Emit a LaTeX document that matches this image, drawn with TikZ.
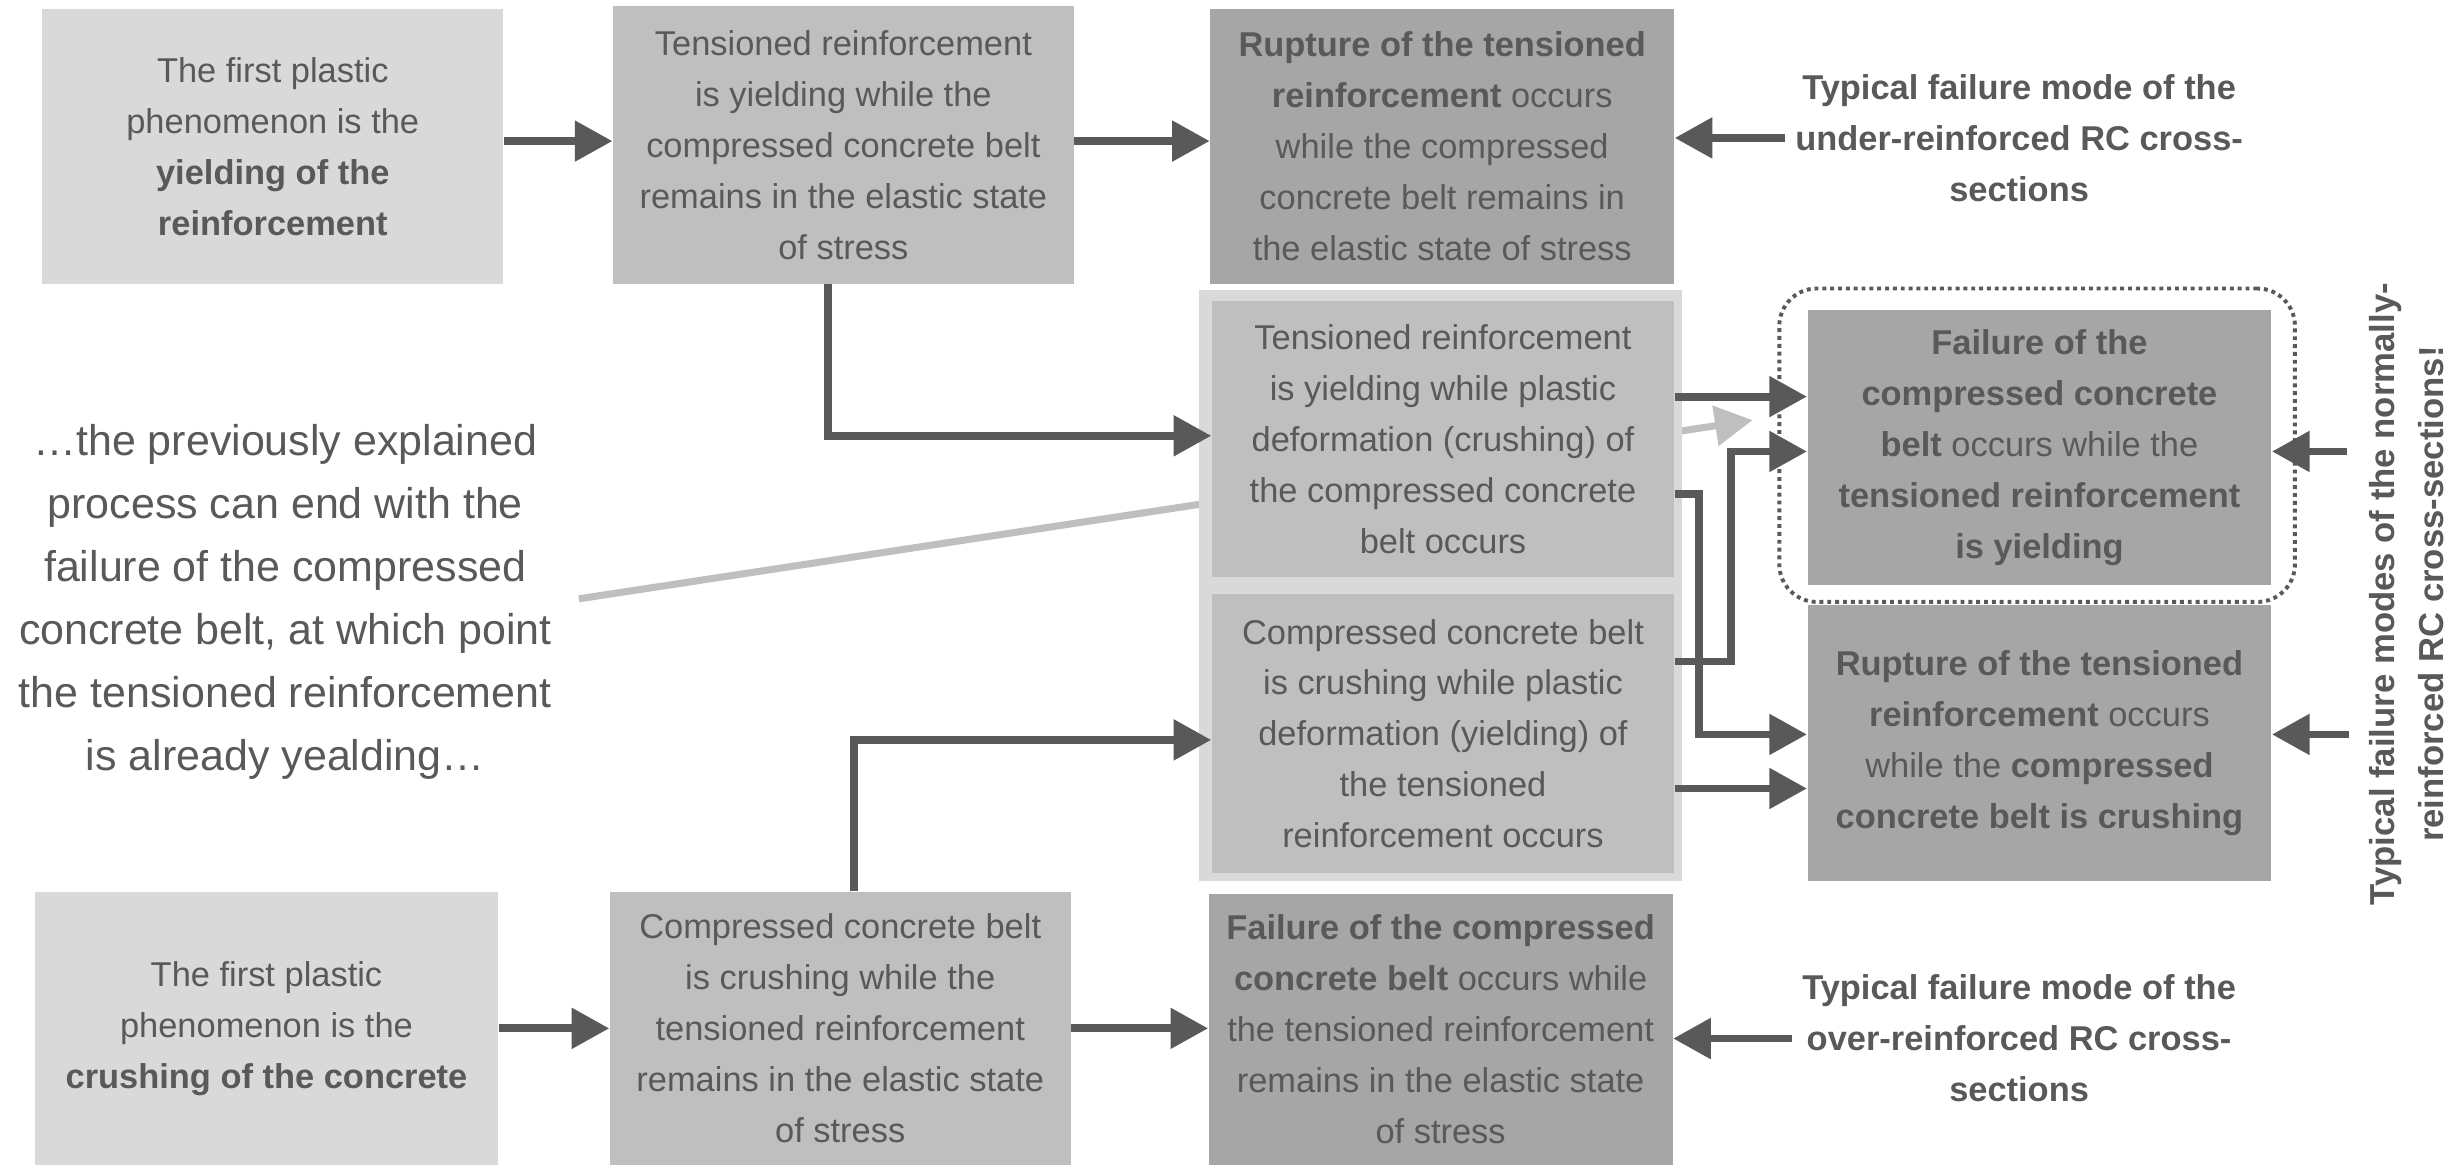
\documentclass[tikz,border=0pt]{standalone}
\usepackage{fontspec}
\setmainfont{Liberation Sans}
\usetikzlibrary{arrows.meta}
\definecolor{tc}{HTML}{595959}
\definecolor{lg}{HTML}{D9D9D9}
\definecolor{mg}{HTML}{BFBFBF}
\definecolor{dg}{HTML}{A6A6A6}
\newcommand\boxfont{\fontsize{12.5pt}{18.5pt}\selectfont}
\newcommand\bigfont{\fontsize{15.6pt}{22.9pt}\selectfont}
\newcommand\sidefont{\fontsize{12.6pt}{17.8pt}\selectfont\bfseries}
\begin{document}
\begin{tikzpicture}[x=0.02cm,y=-0.02cm,
  box/.style={rectangle, inner sep=0pt, align=center, text=tc, font=\boxfont},
  lbl/.style={inner sep=0pt, align=center, text=tc},
  arr/.style={draw=tc, line width=0.1cm, -{Triangle[length=0.48cm,width=0.5cm]}},
  garr/.style={draw=mg, line width=0.09cm, -{Triangle[length=0.48cm,width=0.5cm]}},
  dotbox/.style={draw=tc, line width=0.05cm, dash pattern=on 0.05cm off 0.05cm, rounded corners=0.48cm, minimum width=6.58cm, minimum height=4cm, inner sep=0pt}]
\useasboundingbox (0,0) rectangle (1568,743);

% left explanatory text and grey pointer (behind the middle group)
\node[lbl, font=\bigfont] (L) at (182,384) {\ldots the previously explained\\process can end with the\\failure of the compressed\\concrete belt, at which point\\the tensioned reinforcement\\is already yealding\ldots};
\coordinate (gs) at ([xshift=0.34cm,yshift=0.04cm]L.east);
\coordinate (ge) at (1118,268);
\draw[garr] (gs) -- (ge);

% top row
\node[box, fill=lg, minimum width=5.88cm, minimum height=3.5cm] (A1) at (174,93.5) {The first plastic\\phenomenon is the\\\textbf{yielding of the}\\\textbf{reinforcement}};
\node[box, fill=mg, minimum width=5.88cm, minimum height=3.54cm] (B1) at (538,92.5) {Tensioned reinforcement\\is yielding while the\\compressed concrete belt\\remains in the elastic state\\of stress};
\node[box, fill=dg, minimum width=5.92cm, minimum height=3.5cm] (C1) at (920,93.5) {\textbf{Rupture of the tensioned}\\\textbf{reinforcement} occurs\\while the compressed\\concrete belt remains in\\the elastic state of stress};
\node[box, font=\boxfont\bfseries] (T1) at (1288,88) {Typical failure mode of the\\under-reinforced RC cross-\\sections};

% middle group
\node[rectangle, fill=lg, minimum width=6.16cm, minimum height=7.54cm, inner sep=0pt] (BG) at (919,373.5) {};
\node[box, fill=mg, minimum width=5.9cm, minimum height=3.52cm] (D) at (920.5,280) {Tensioned reinforcement\\is yielding while plastic\\deformation (crushing) of\\the compressed concrete\\belt occurs};
\node[box, fill=mg, minimum width=5.9cm, minimum height=3.56cm] (E) at (920.5,468) {Compressed concrete belt\\is crushing while plastic\\deformation (yielding) of\\the tensioned\\reinforcement occurs};

% right group
\node[dotbox] (DB) at (1299.5,284) {};
\node[box, fill=dg, minimum width=5.92cm, minimum height=3.5cm] (F) at (1301,285.5) {\textbf{Failure of the}\\\textbf{compressed concrete}\\\textbf{belt} occurs while the\\\textbf{tensioned reinforcement}\\\textbf{is yielding}};
\node[box, fill=dg, minimum width=5.92cm, minimum height=3.52cm] (G) at (1301,474) {\textbf{Rupture of the tensioned}\\\textbf{reinforcement} occurs\\while the \textbf{compressed}\\\textbf{concrete belt is crushing}};
\node[lbl, rotate=90, font=\sidefont] (V) at (1535,379) {Typical failure modes of the normally-\\reinforced RC cross-sections!};

% bottom row
\node[box, fill=lg, minimum width=5.92cm, minimum height=3.48cm] (A2) at (170,656) {The first plastic\\phenomenon is the\\\textbf{crushing of the concrete}};
\node[box, fill=mg, minimum width=5.88cm, minimum height=3.48cm] (B2) at (536,656) {Compressed concrete belt\\is crushing while the\\tensioned reinforcement\\remains in the elastic state\\of stress};
\node[box, fill=dg, minimum width=5.92cm, minimum height=3.46cm] (C2) at (919,656.5) {\textbf{Failure of the compressed}\\\textbf{concrete belt} occurs while\\the tensioned reinforcement\\remains in the elastic state\\of stress};
\node[box, font=\boxfont\bfseries] (T2) at (1288,662.5) {Typical failure mode of the\\over-reinforced RC cross-\\sections};

% connectors
\draw[arr] ([yshift=0.07cm]A1.east) -- ([yshift=0.07cm]A1.east -| B1.west);
\draw[arr] ([yshift=0.05cm]B1.east) -- ([yshift=0.05cm]B1.east -| C1.west);
\draw[arr] ([xshift=-0.12cm]T1.west) -- (T1.west -| C1.east);
\draw[arr] ([xshift=-0.2cm]B1.south) |- ([yshift=0.04cm]D.west);
\draw[arr] (A2.east) -- (A2.east -| B2.west);
\draw[arr] (B2.east) -- (B2.east -| C2.west);
\draw[arr] ([xshift=-0.12cm]T2.west) -- (T2.west -| C2.east);
\draw[arr] ([xshift=0.18cm]B2.north) |- ([yshift=-0.08cm]E.west);
\draw[arr] ([yshift=0.54cm]D.east) -- ([yshift=0.54cm]D.east -| F.west);
\draw[arr] ([yshift=-0.7cm]D.east) -- ++(0.31cm,0) |- ([yshift=0.11cm]G.west);
\draw[arr] ([yshift=0.92cm]E.east) -- ++(0.72cm,0) |- ([yshift=-0.05cm]F.west);
\draw[arr] ([yshift=-0.7cm]E.east) -- ([yshift=-0.7cm]E.east -| G.west);
\draw[arr] ([xshift=0.96cm,yshift=-0.05cm]F.east) -- ([yshift=-0.05cm]F.east);
\draw[arr] ([xshift=0.98cm,yshift=0.11cm]G.east) -- ([yshift=0.11cm]G.east);
\end{tikzpicture}
\end{document}
